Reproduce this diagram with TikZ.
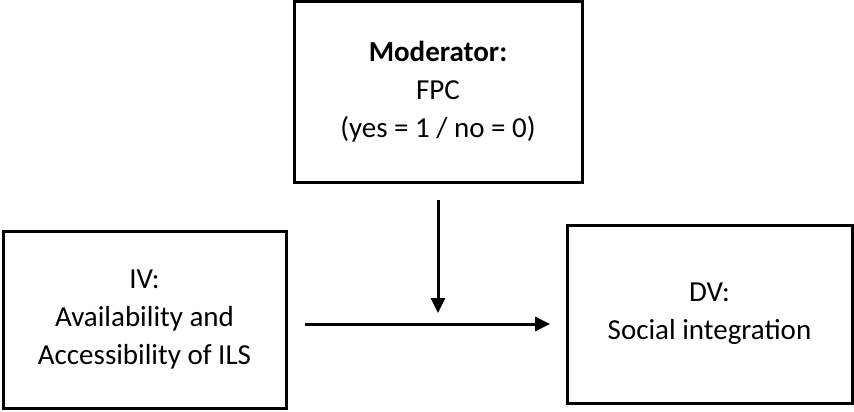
\documentclass[tikz,border=0pt]{standalone}
\usepackage{fontspec}
\setmainfont{Carlito}
\usetikzlibrary{positioning, arrows.meta}

\tikzset{
    caixa/.style={draw, line width=3pt, align=center,
        font=\fontsize{29}{38}\selectfont, inner sep=0pt}
}

\begin{document}
\begin{tikzpicture}[x=1pt, y=-1pt, >={Triangle[length=15pt, width=14pt]}, line width=3pt]
    \useasboundingbox (0,0) rectangle (854,412);

    \node [caixa,
        minimum width=288pt,
        minimum height=180pt
    ] (moderador) at (438,92) {
        \textbf{Moderator:}\\
        FPC\\
        (yes = 1 / no = 0)
    };

    \node [caixa,
        minimum width=283pt,
        minimum height=177pt
    ] (iv) at (144.5,319.5) {
        IV:\\
        Availability and\\
        Accessibility of ILS
    };

    \node [caixa,
        minimum width=285pt,
        minimum height=178pt
    ] (dv) at (709.5,314) {
        DV:\\
        Social integration
    };

    % pontos livres das setas
    \coordinate (topo) at (438,200);
    \coordinate (meio) at (438,313);
    \coordinate (inicio) at (305,324);
    \coordinate (fim) at (550,324);

    \draw [->] (topo) -- (meio);
    \draw [->] (inicio) -- (fim);

\end{tikzpicture}
\end{document}
